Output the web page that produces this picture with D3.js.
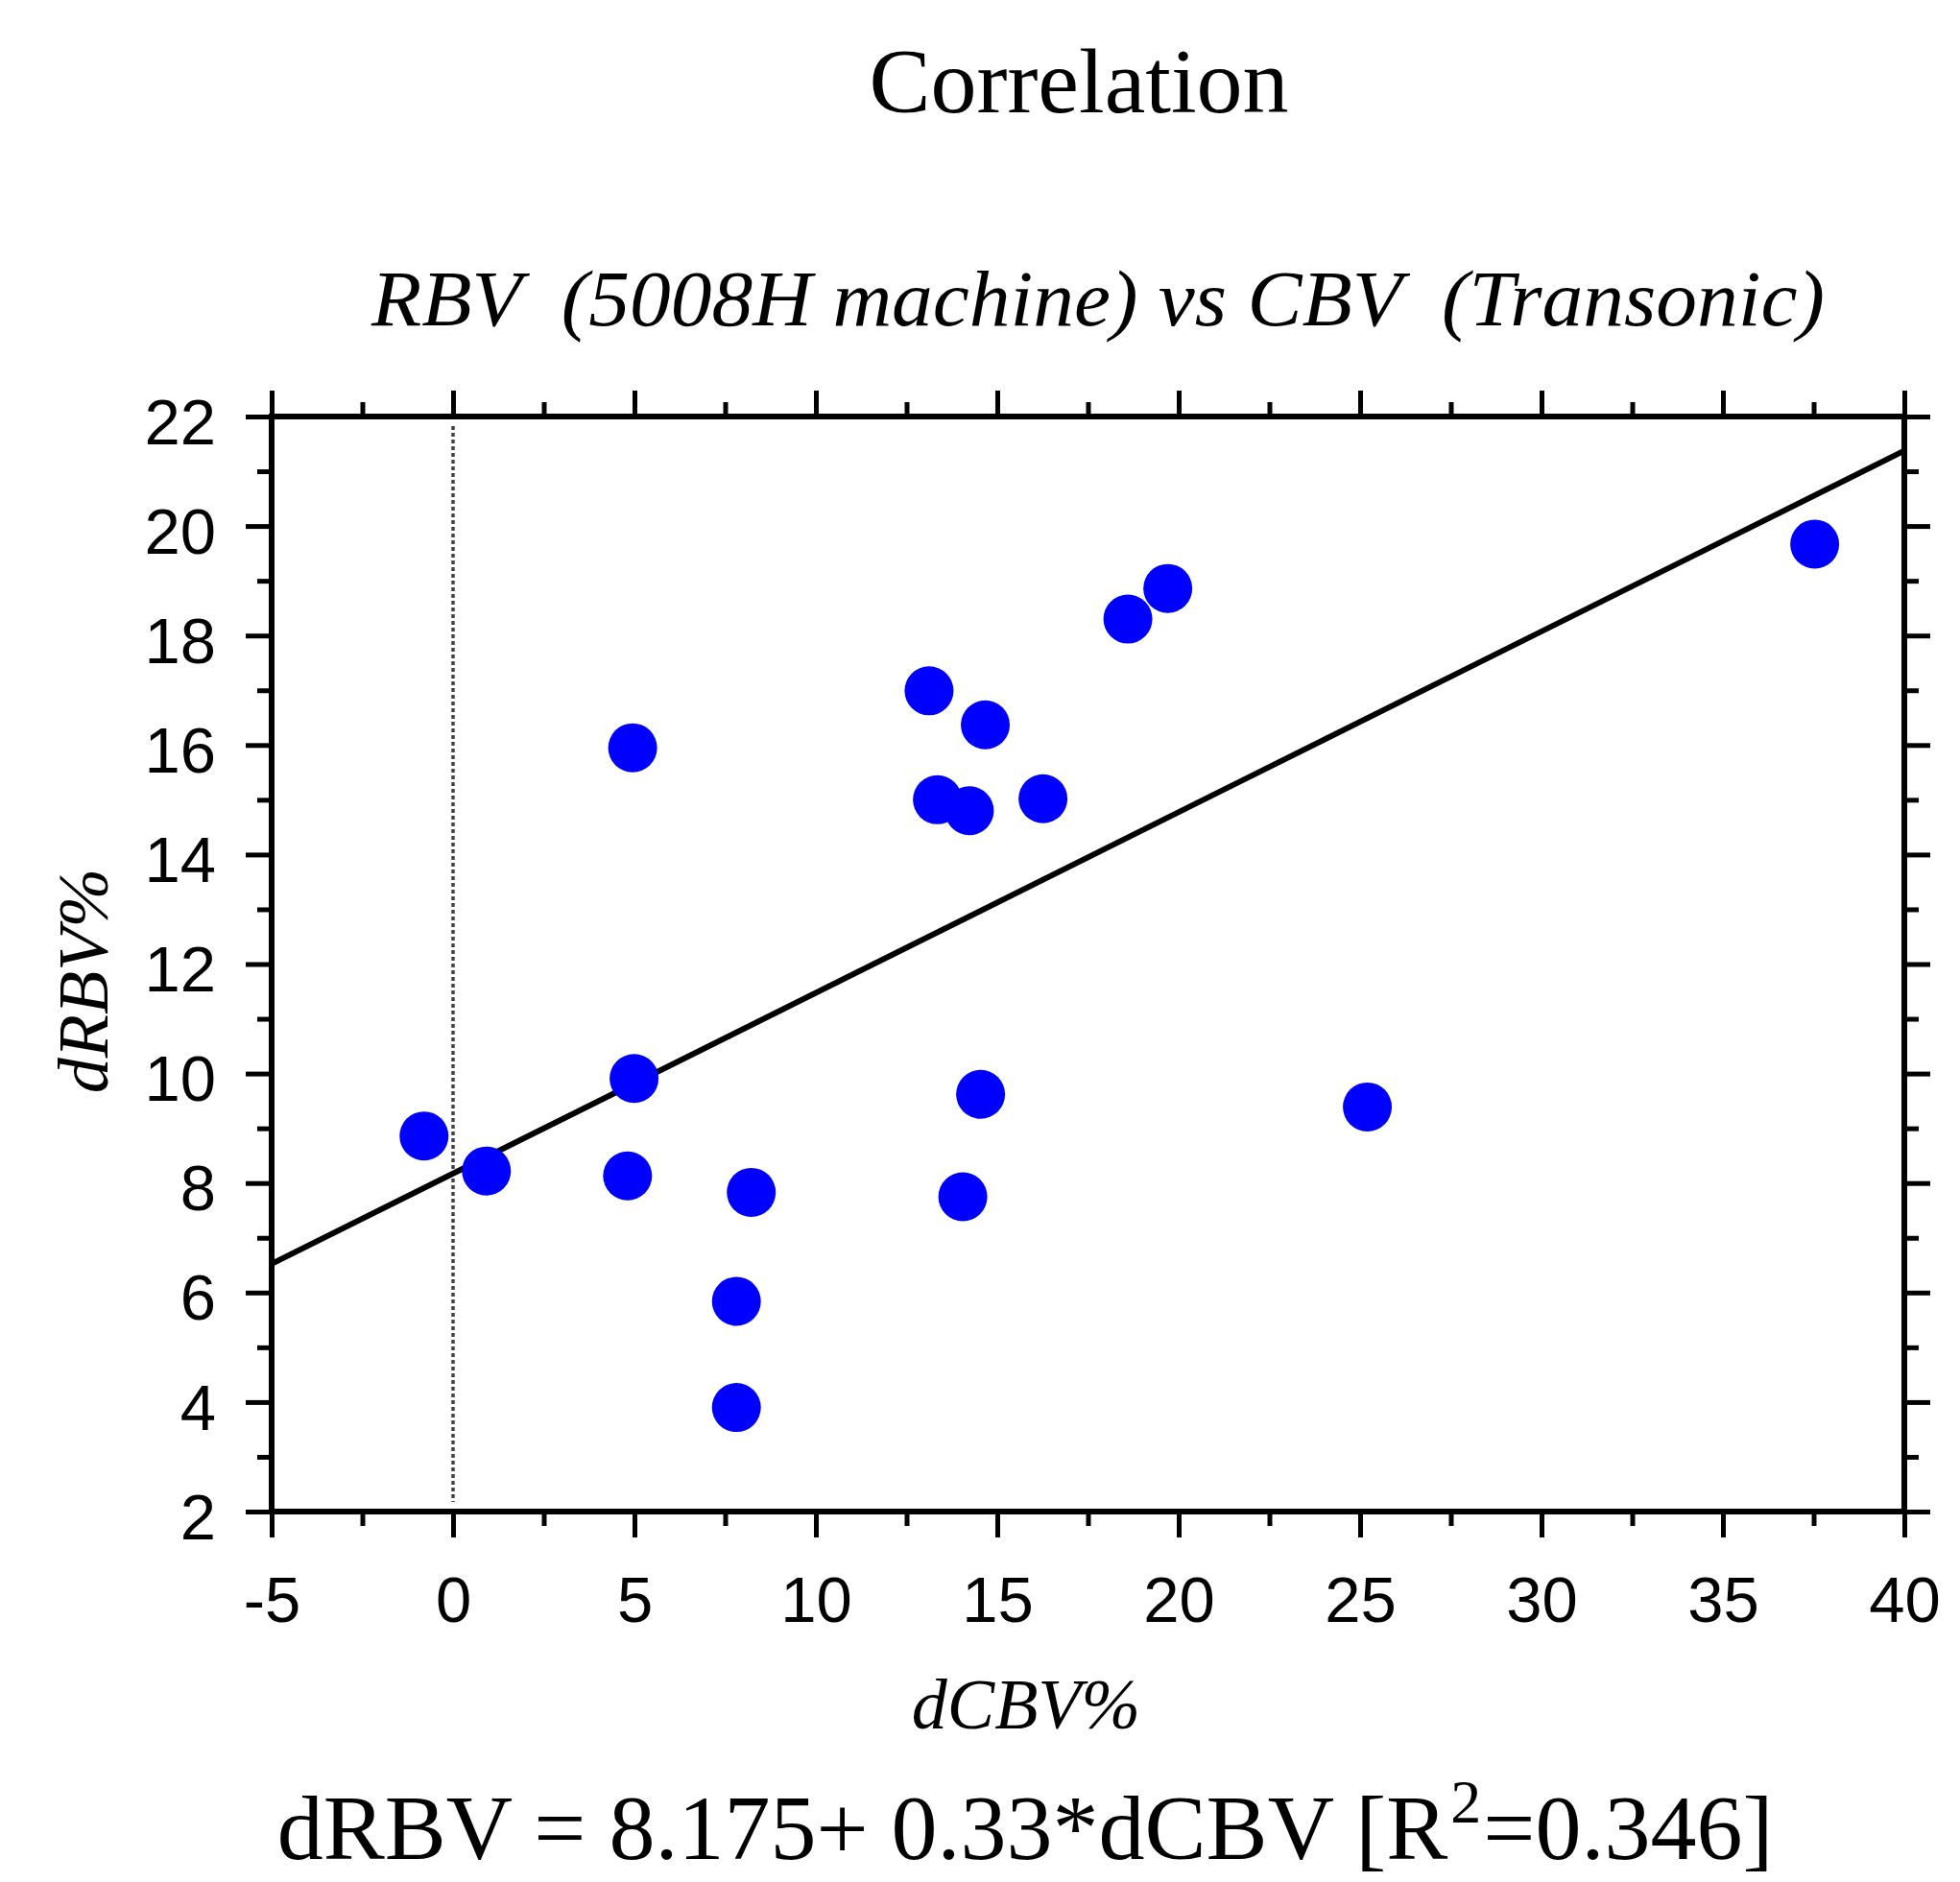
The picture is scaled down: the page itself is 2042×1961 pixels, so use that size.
<!DOCTYPE html>
<html>
<head>
<meta charset="utf-8">
<script src="https://cdn.jsdelivr.net/npm/d3@7"></script>
<style>
  body { margin: 0; background: #fff; }
  svg { display: block; }
</style>
</head>
<body>
<svg id="chart"></svg>
<script>
// values
const dCBV = [-0.8, 0.92, 4.81, 4.99, 4.95, 8.22, 7.81, 7.81, 13.12, 13.35, 14.23, 14.67, 16.26, 14.54, 14.05, 18.6, 19.7, 25.2, 37.53];
const dRBV = [8.86, 8.22, 8.13, 9.91, 15.95, 7.83, 5.84, 3.9, 16.99, 15.0, 14.8, 16.37, 15.02, 9.62, 7.75, 18.3, 18.86, 9.39, 19.67];
const fit = { intercept: 8.175, slope: 0.33 };
const xTicks = [-5, 0, 5, 10, 15, 20, 25, 30, 35, 40];
const xMinor = [-2.5, 2.5, 7.5, 12.5, 17.5, 22.5, 27.5, 32.5, 37.5];
const yTicks = [2, 4, 6, 8, 10, 12, 14, 16, 18, 20, 22];
const yMinor = [3, 5, 7, 9, 11, 13, 15, 17, 19, 21];

const W = 2042, H = 1961;
const margin = { top: 434, right: 58, bottom: 386, left: 283 },
      width = W - margin.left - margin.right,
      height = H - margin.top - margin.bottom;

const svg = d3.select("#chart").attr("width", W).attr("height", H);
const g = svg.append("g").attr("transform", `translate(${margin.left},${margin.top})`);

const x = d3.scaleLinear().domain([-5, 40]).range([0, width]);
const y = d3.scaleLinear().domain([2, 22]).range([height, 0]);

const sans = "'Liberation Sans', Arial, sans-serif";
const serif = "'Liberation Serif', 'Times New Roman', serif";
const fmt = d => String(d); // plain hyphen for negatives

// zero reference line
g.append("line")
    .attr("x1", x(0)).attr("x2", x(0))
    .attr("y1", 10).attr("y2", height - 10)
    .attr("stroke", "#444")
    .attr("stroke-width", 3.5)
    .attr("stroke-dasharray", "4,3");

// regression line
const ends = x.domain();
g.append("line")
    .attr("x1", x(ends[0])).attr("y1", y(fit.intercept + fit.slope * ends[0]))
    .attr("x2", x(ends[1])).attr("y2", y(fit.intercept + fit.slope * ends[1]))
    .attr("stroke", "#000")
    .attr("stroke-width", 6);

// points
g.selectAll(".dot")
    .data(dCBV.map((v, i) => ({ x: v, y: dRBV[i] })))
    .enter().append("circle")
    .attr("class", "dot")
    .attr("cx", d => x(d.x))
    .attr("cy", d => y(d.y))
    .attr("r", 25.5)
    .attr("fill", "#0000ff");

// axes on all four sides, ticks outward
function styleAxis(sel) {
    sel.select(".domain").remove();
    sel.selectAll("line").attr("stroke", "#000").attr("stroke-width", 5);
}
const major = 27, minor = 15;
g.append("g").attr("transform", `translate(0,${height})`)
    .call(d3.axisBottom(x).tickValues(xTicks).tickSize(major).tickPadding(40).tickFormat(fmt))
    .call(styleAxis)
    .selectAll("text").style("font-size", "67px").style("font-family", sans).attr("fill", "#000");
g.append("g").attr("transform", `translate(0,${height})`)
    .call(d3.axisBottom(x).tickValues(xMinor).tickSize(minor).tickFormat(""))
    .call(styleAxis);
g.append("g")
    .call(d3.axisTop(x).tickValues(xTicks).tickSize(major).tickFormat(""))
    .call(styleAxis);
g.append("g")
    .call(d3.axisTop(x).tickValues(xMinor).tickSize(minor).tickFormat(""))
    .call(styleAxis);
g.append("g")
    .call(d3.axisLeft(y).tickValues(yTicks).tickSize(major).tickPadding(31).tickFormat(fmt))
    .call(styleAxis)
    .selectAll("text").style("font-size", "67px").style("font-family", sans).attr("fill", "#000").attr("dy", "0.42em");
g.append("g")
    .call(d3.axisLeft(y).tickValues(yMinor).tickSize(minor).tickFormat(""))
    .call(styleAxis);
g.append("g").attr("transform", `translate(${width},0)`)
    .call(d3.axisRight(y).tickValues(yTicks).tickSize(major).tickFormat(""))
    .call(styleAxis);
g.append("g").attr("transform", `translate(${width},0)`)
    .call(d3.axisRight(y).tickValues(yMinor).tickSize(minor).tickFormat(""))
    .call(styleAxis);

// frame
g.append("rect")
    .attr("width", width).attr("height", height)
    .attr("fill", "none").attr("stroke", "#000").attr("stroke-width", 6);

// titles
svg.append("text")
    .attr("x", 1124).attr("y", 117)
    .attr("text-anchor", "middle")
    .style("font-family", serif).style("font-size", "96px")
    .text("Correlation");

svg.append("text")
    .attr("x", 1144).attr("y", 339)
    .attr("text-anchor", "middle")
    .attr("textLength", 1514).attr("lengthAdjust", "spacingAndGlyphs")
    .style("font-family", serif).style("font-size", "82px").style("font-style", "italic")
    .style("white-space", "pre")
    .text("RBV  (5008H machine) vs CBV  (Transonic)");

svg.append("text")
    .attr("transform", "translate(112,1022) rotate(-90)")
    .attr("text-anchor", "middle")
    .style("font-family", serif).style("font-size", "74px").style("font-style", "italic")
    .text("dRBV%");

svg.append("text")
    .attr("x", 1069).attr("y", 1801)
    .attr("text-anchor", "middle")
    .style("font-family", serif).style("font-size", "74px").style("font-style", "italic")
    .text("dCBV%");

const eq = svg.append("text")
    .attr("x", 1068).attr("y", 1937)
    .attr("text-anchor", "middle")
    .style("font-family", serif).style("font-size", "96px");
eq.append("tspan").text("dRBV = 8.175+ 0.33*dCBV [R");
eq.append("tspan").attr("dx", 3).attr("dy", -38).style("font-size", "64px").text("2");
eq.append("tspan").attr("dx", 2).attr("dy", 38).text("=0.346]");
</script>
</body>
</html>
